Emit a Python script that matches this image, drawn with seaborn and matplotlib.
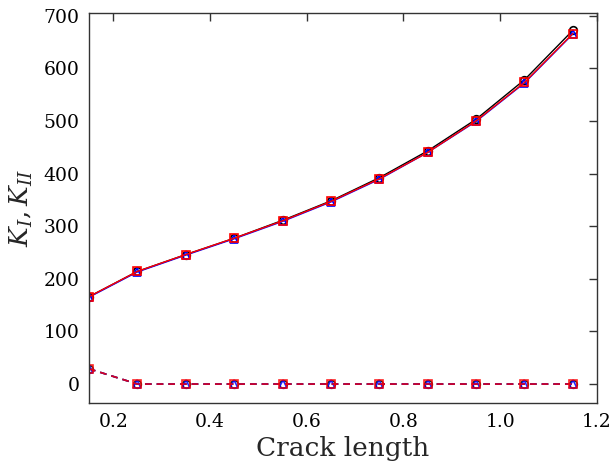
import numpy as np
import pandas as pd
import matplotlib
matplotlib.use("Agg")
import matplotlib.pyplot as plt
import seaborn as sns

crack = [0.15, 0.25, 0.35, 0.45, 0.55, 0.65, 0.75, 0.85, 0.95, 1.05, 1.15]
KI_a = [166, 214, 246, 277, 311, 348, 392, 443, 503, 578, 672]
KI_b = [165, 213, 245, 276, 309, 346, 389, 440, 499, 572, 665]
KI_c = [166, 214, 246, 277, 310, 347, 390, 440, 500, 573, 666]
KII_a = [29, 0, 0, 0, 0, 0, 0, 0, 0, 0, 0]
KII_b = [29, 0, 0, 0, 0, 0, 0, 0, 0, 0, 0]
KII_c = [29, 0, 0, 0, 0, 0, 0, 0, 0, 0, 0]

sns.set_style("white")
plt.rcParams['font.family'] = ['DejaVu Serif']
plt.rcParams['mathtext.fontset'] = 'dejavuserif'

fig = plt.figure(figsize=(6.1, 4.66), dpi=100)
ax = fig.add_axes([89/610, 1-403/466, (597-89)/610, (403-13)/466])

series = [
    (KI_a, KII_a, 'black', 'o'),
    (KI_b, KII_b, 'blue', '^'),
    (KI_c, KII_c, 'red', 's'),
]
for ki, kii, col, mk in series:
    df = pd.DataFrame({'x': crack, 'ki': ki, 'kii': kii})
    sns.lineplot(data=df, x='x', y='ki', ax=ax, color=col, marker=mk, lw=1.0,
                 markersize=5.5, markerfacecolor='none', markeredgecolor=col,
                 markeredgewidth=1.2, linestyle='-')
    sns.lineplot(data=df, x='x', y='kii', ax=ax, color=col, marker=mk, lw=1.2,
                 markersize=5.5, markerfacecolor='none', markeredgecolor=col,
                 markeredgewidth=1.2, dashes=False, linestyle=(0, (4, 3)), alpha=0.85)

ax.set_xlim(0.15, 1.2)
ax.set_ylim(-36, 705)
ax.set_xticks([0.2, 0.4, 0.6, 0.8, 1.0, 1.2])
ax.set_yticks([0, 100, 200, 300, 400, 500, 600, 700])
ax.tick_params(direction='in', top=True, right=True, length=6, width=1,
               labelsize=13.5, colors='#333333', labelcolor='black', pad=7)
for s in ax.spines.values():
    s.set_color('#333333')
    s.set_linewidth(1)
ax.set_xlabel('Crack length', fontsize=19, labelpad=4)
ax.set_ylabel(r'$K_I, K_{II}$', fontsize=19, labelpad=6)

fig.savefig('out.png', dpi=100)
